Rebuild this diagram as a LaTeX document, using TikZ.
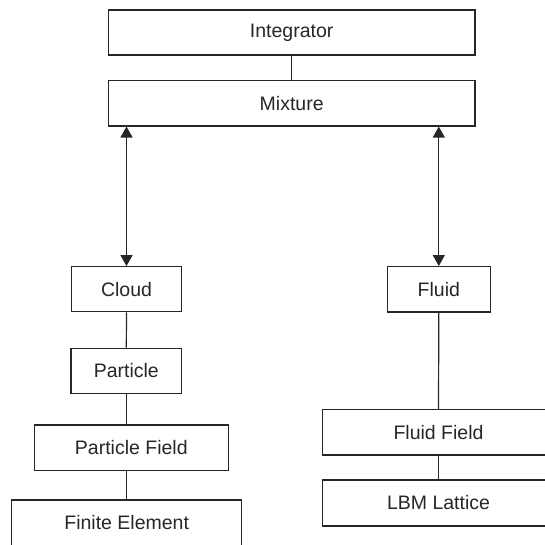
\documentclass[tikz,border=0pt]{standalone}
\usepackage{fontspec}
\setmainfont{Liberation Sans}
\usetikzlibrary{arrows.meta}
\tikzset{
  unitbox/.style={draw=black!85, line width=1.2pt, rectangle, inner sep=0pt,
    font=\fontsize{19.5}{23}\selectfont, text=black!85},
  link/.style={draw=black!85, line width=1.2pt},
  twoway/.style={link, {Triangle[width=12pt,length=11pt]}-{Triangle[width=12pt,length=11pt]}}
}
\begin{document}
\begin{tikzpicture}[x=1pt,y=-1pt]
  \useasboundingbox (0,0) rectangle (545,544);
  \clip (0,0) rectangle (545,544);
  % top level
  \node[unitbox, minimum width=366.7pt, minimum height=45pt] (integ) at (291.7,32.5) {Integrator};
  \node[unitbox, minimum width=366.7pt, minimum height=45.3pt] (mix) at (291.7,103.3) {Mixture};
  % particle branch
  \node[unitbox, minimum width=110.7pt, minimum height=45pt] (cloud) at (126.5,289.2) {Cloud};
  \node[unitbox, minimum width=110.7pt, minimum height=45pt] (part) at (126.3,370.8) {Particle};
  \node[unitbox, minimum width=194pt, minimum height=45.7pt] (pfield) at (131.3,447.8) {Particle Field};
  \node[unitbox, minimum width=230pt, minimum height=54pt, text depth=9pt] (fem) at (126.7,527) {Finite Element};
  % fluid branch
  \node[unitbox, minimum width=102.7pt, minimum height=45.3pt] (fluid) at (438.8,289.3) {Fluid};
  \node[unitbox, minimum width=231.6pt, minimum height=45.7pt] (ffield) at (438.5,432.2) {Fluid Field};
  \node[unitbox, minimum width=231.6pt, minimum height=46pt] (lbm) at (438.5,503) {LBM Lattice};
  % connectors
  \draw[link] (integ.south) -- (mix.north);
  \draw[twoway] (cloud.north |- mix.south) -- (cloud.north);
  \draw[twoway] (fluid.north |- mix.south) -- (fluid.north);
  \draw[link] (cloud.south) -- (part.north);
  \draw[link] (part.south) -- (part.south |- pfield.north);
  \draw[link] (fem.north |- pfield.south) -- (fem.north);
  \draw[link] (fluid.south) -- (ffield.north);
  \draw[link] (ffield.south) -- (lbm.north);
\end{tikzpicture}
\end{document}
